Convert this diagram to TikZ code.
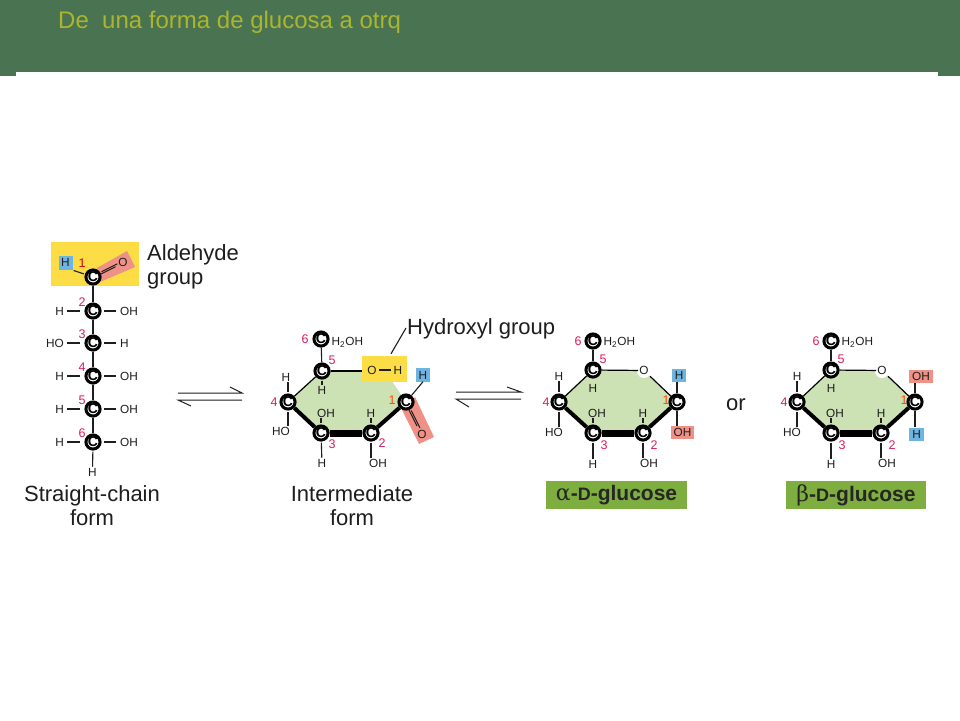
\documentclass[tikz,border=0pt]{standalone}
\usepackage{fontspec}
\setmainfont{Liberation Sans}
\newfontfamily\symf{DejaVu Serif}
\usetikzlibrary{calc}
\definecolor{hdr}{RGB}{74,115,82}
\definecolor{ttl}{RGB}{170,182,46}
\definecolor{yel}{RGB}{252,221,70}
\definecolor{pnk}{RGB}{240,145,135}
\definecolor{blu}{RGB}{110,180,225}
\definecolor{ringg}{RGB}{204,225,180}
\definecolor{gbox}{RGB}{126,174,64}
\definecolor{num}{RGB}{220,30,90}
\definecolor{ink}{RGB}{30,30,30}
\newcommand{\fs}[1]{\fontsize{#1}{#1}\selectfont}
\tikzset{
  carbon/.style={circle,draw=black,line width=3pt,fill=white,inner sep=0pt,minimum size=13pt,font=\fs{14}\bfseries,text=black},
  atom/.style={inner sep=0pt,font=\fs{11.8},text=ink},
  numlab/.style={inner sep=0pt,font=\fs{12.5},text=num},
  captxt/.style={inner sep=0pt,font=\fs{22},text=ink,anchor=base},
  bond/.style={draw=ink,line width=1.1pt,shorten <=1pt,shorten >=1pt},
  sidebond/.style={draw=ink,line width=1.1pt},
  dbl/.style={draw=ink,line width=1pt,shorten >=2pt},
  ringthin/.style={draw=black,line width=1.2pt},
  ringmid/.style={draw=black,line width=4pt},
  ringfat/.style={draw=black,line width=7pt},
  hbox/.style={fill=blu,inner sep=0pt,minimum width=14pt,minimum height=14pt},
  namebox/.style={fill=gbox,inner sep=0pt,minimum width=141pt,minimum height=28pt,font=\fs{21}\bfseries,text=black!85},
  equil/.style={draw=ink,line width=1pt}
}
\begin{document}
\begin{tikzpicture}[x=1pt,y=-1pt]
\useasboundingbox (0,0) rectangle (960,720);
\fill[white] (0,0) rectangle (960,720);
% header
\fill[hdr] (0,0) rectangle (960,72);
\fill[hdr] (0,72) rectangle (16,76);
\fill[hdr] (938,72) rectangle (960,76);
\node[anchor=base west,inner sep=0pt,font=\fs{24},text=ttl] (title) at (58,28) {De\ \ una forma de glucosa a otrq};

% ---------- straight chain
\fill[yel] (51,242) rectangle (139,286);
\fill[pnk] (97,268) -- (127,251) -- (135,267) -- (100,282) -- cycle;
\node[hbox] (sh) at (65.5,263) {};
\node[atom] (shl) at (65.5,262.5) {H};
\node[atom] (so) at (123,262) {O};
\node[carbon] (s1) at (93,277) {C};
\node[carbon] (s2) at (93,311) {C};
\node[carbon] (s3) at (93,343) {C};
\node[carbon] (s4) at (93,376) {C};
\node[carbon] (s5) at (93,409) {C};
\node[carbon] (s6) at (93,442) {C};
\node[atom] (sb) at (92.5,472) {H};
\draw[sidebond] (s1) -- (s2);
\draw[sidebond] (s2) -- (s3);
\draw[sidebond] (s3) -- (s4);
\draw[sidebond] (s4) -- (s5);
\draw[sidebond] (s5) -- (s6);
\draw[bond] (s6) -- (sb);
\draw[bond] (sh.south east) -- (s1);
\draw[dbl,transform canvas={xshift=-0.9pt,yshift=-1.5pt}] (s1) -- (so);
\draw[dbl,transform canvas={xshift=0.9pt,yshift=1.5pt}] (s1) -- (so);
\foreach \i/\yy/\lt/\rt in {2/311/H/OH,3/343/HO/H,4/376/H/OH,5/409/H/OH,6/442/H/OH}{
  \node[atom,anchor=east] (sl\i) at (64,\yy) {\lt};
  \node[atom,anchor=west] (sr\i) at (120,\yy) {\rt};
  \coordinate (sla\i) at (67,\yy);
  \coordinate (slb\i) at (80,\yy);
  \coordinate (sra\i) at (104,\yy);
  \coordinate (srb\i) at (116,\yy);
  \draw[sidebond] (sla\i) -- (slb\i);
  \draw[sidebond] (sra\i) -- (srb\i);
}
\node[numlab,text=red!85!black] (sn1) at (82,263) {1};
\node[numlab] (sn2) at (82,302) {2};
\node[numlab] (sn3) at (82,334) {3};
\node[numlab] (sn4) at (82,367) {4};
\node[numlab] (sn5) at (82,400) {5};
\node[numlab] (sn6) at (82,433) {6};
\node[captxt,anchor=base west] (ald1) at (147,260) {Aldehyde};
\node[captxt,anchor=base west] (ald2) at (147,284.5) {group};
\node[captxt] (sc1) at (92,501.5) {Straight-chain};
\node[captxt] (sc2) at (92,525) {form};

% equilibrium arrows
\coordinate (e1a) at (178,393); \coordinate (e1b) at (242,393); \coordinate (e1c) at (230,387);
\coordinate (e1d) at (242,400); \coordinate (e1e) at (178,400); \coordinate (e1f) at (191,406);
\draw[equil] (e1a) -- (e1b) -- (e1c);
\draw[equil] (e1d) -- (e1e) -- (e1f);
\coordinate (e2a) at (456,392); \coordinate (e2b) at (521,392); \coordinate (e2c) at (507,387);
\coordinate (e2d) at (521,399); \coordinate (e2e) at (456,399); \coordinate (e2f) at (469,407);
\draw[equil] (e2a) -- (e2b) -- (e2c);
\draw[equil] (e2d) -- (e2e) -- (e2f);

% ---------- intermediate
\fill[ringg] (322,371) -- (385,371) -- (406,402) -- (371,433) -- (321,433) -- (288,402) -- cycle;
\fill[pnk] (402,410) -- (415,397) -- (434,437) -- (419,444) -- cycle;
\node[fill=yel,inner sep=0pt,minimum width=45pt,minimum height=26pt] (ibox) at (384.5,369) {};
\node[atom] (io) at (372,370) {O};
\node[atom] (ih) at (398,370) {H};
\node[hbox] (ihb) at (423,374.5) {};
\node[atom] (ihl) at (423,375) {H};
\node[atom] (ioo) at (422,434) {O};
\node[carbon] (i6) at (321,339) {C};
\node[carbon] (i5) at (322,371) {C};
\node[carbon] (i4) at (288,402) {C};
\node[carbon] (i3) at (321,433) {C};
\node[carbon] (i2) at (371,433) {C};
\node[carbon] (i1) at (406,402) {C};
\draw[sidebond] (i6) -- (i5);
\draw[ringthin] (i5) -- (i4);
\draw[ringmid] (i4) -- (i3);
\draw[ringfat] (i3) -- (i2);
\draw[ringmid] (i2) -- (i1);
\draw[ringthin] (i5) -- (i5-|ibox.west);
\draw[line width=1.2pt,draw=ink,shorten <=2.5pt,shorten >=2.5pt] (io) -- (ih);
\draw[sidebond] (i1) -- (ihb.south);
\draw[dbl,shorten >=3pt,transform canvas={xshift=-1.4pt,yshift=0.9pt}] (i1) -- (ioo);
\draw[dbl,shorten >=3pt,transform canvas={xshift=1.4pt,yshift=-0.9pt}] (i1) -- (ioo);
\node[atom] (i_h4) at (286,377) {H};
\node[atom] (i_ho) at (281,431) {HO};
\node[atom] (i_h5) at (322,390) {H};
\node[atom] (i_oh3) at (326,413) {OH};
\node[atom] (i_h2) at (371,413) {H};
\node[atom] (i_h3) at (322,463) {H};
\node[atom] (i_oh2) at (378,463) {OH};
\node[atom,anchor=west] (i_ch) at (331.5,342) {H\textsubscript{2}OH};
\draw[bond] (i_h4.south-|i4) -- (i4);
\draw[bond] (i_ho.north-|i4) -- (i4);
\draw[bond] (i5) -- (i_h5);
\draw[bond] (i_oh3.south-|i3) -- (i3);
\draw[bond] (i_h2) -- (i2);
\draw[bond] (i3) -- (i_h3);
\draw[bond] (i2) -- (i_oh2.north-|i2);
\node[numlab] (i_n6) at (305,339) {6};
\node[numlab] (i_n5) at (332,360) {5};
\node[numlab] (i_n4) at (274,402) {4};
\node[numlab] (i_n3) at (332,444) {3};
\node[numlab] (i_n2) at (382,443) {2};
\node[numlab,text=orange!60!red] (i_n1) at (392,400) {1};
\node[captxt,anchor=base west] (hyd) at (407,334) {Hydroxyl group};
\coordinate (hydl) at (406,328);
\draw[sidebond] (hydl) -- ($(ibox.north)+(6.5,-2)$);
\node[captxt] (ic1) at (352,501.5) {Intermediate};
\node[captxt] (ic2) at (352,525) {form};

% ---------- alpha and beta
\foreach \p/\dx/\ux/\uy/\uw/\dw/\ulab/\dlab/\uc/\dc/\dy in {a/0/679/375.5/14/23/H/OH/blu/pnk/432.5, b/238/683/376/24/15/OH/H/pnk/blu/434}{
\begin{scope}[xshift=\dx pt]
  \fill[ringg] (593,370) -- (644,370) -- (677,402) -- (643,433) -- (593,433) -- (559,402) -- cycle;
  \node[fill=\uc,inner sep=0pt,minimum width=\uw pt,minimum height=13pt] (\p ub) at (\ux,\uy) {};
  \node[fill=\dc,inner sep=0pt,minimum width=\dw pt,minimum height=13pt] (\p db) at ({677+(\dw-14)/2+1},\dy) {};
  \node[atom] (\p ul) at (\p ub) {\ulab};
  \node[atom] (\p dl) at (\p db) {\dlab};
  \node[carbon] (\p 6) at (593,341) {C};
  \node[carbon] (\p 5) at (593,370) {C};
  \node[carbon] (\p 4) at (559,402) {C};
  \node[carbon] (\p 3) at (593,433) {C};
  \node[carbon] (\p 2) at (643,433) {C};
  \node[carbon] (\p 1) at (677,402) {C};
  \fill[white] (644,371) circle (7);
  \node[atom] (\p o) at (644,370.5) {O};
  \draw[sidebond] (\p 6) -- (\p 5);
  \draw[ringthin] (\p 5) -- (\p 4);
  \draw[ringmid] (\p 4) -- (\p 3);
  \draw[ringfat] (\p 3) -- (\p 2);
  \draw[ringmid] (\p 2) -- (\p 1);
  \draw[ringthin,shorten >=1pt] (\p 5) -- (\p o);
  \draw[ringthin,shorten <=2pt] (\p o) -- (\p 1);
  \draw[sidebond] (\p 1) -- (\p ub.south-|\p 1);
  \draw[sidebond] (\p 1) -- (\p db.north-|\p 1);
  \node[atom] (\p h4) at (559,376) {H};
  \node[atom] (\p ho) at (554,432) {HO};
  \node[atom] (\p h5) at (593,388) {H};
  \node[atom] (\p oh3) at (597,413) {OH};
  \node[atom] (\p h2) at (643,413) {H};
  \node[atom] (\p h3) at (593,464) {H};
  \node[atom] (\p oh2) at (649,463) {OH};
  \node[atom,anchor=west] (\p ch) at (603.5,342) {H\textsubscript{2}OH};
  \draw[bond] (\p h4) -- (\p 4);
  \draw[bond] (\p ho.north-|\p 4) -- (\p 4);
  \draw[bond] (\p oh3.south-|\p 3) -- (\p 3);
  \draw[bond] (\p h2) -- (\p 2);
  \draw[bond] (\p 3) -- (\p h3);
  \draw[bond] (\p 2) -- (\p oh2.north-|\p 2);
  \node[numlab] (\p n6) at (578,341) {6};
  \node[numlab] (\p n5) at (603,359) {5};
  \node[numlab] (\p n4) at (546,402) {4};
  \node[numlab] (\p n3) at (604,445) {3};
  \node[numlab] (\p n2) at (654,445) {2};
  \node[numlab,text=orange!60!red] (\p n1) at (666,400) {1};
\end{scope}
}
\node[namebox] (an) at (616.5,495) {{\symf\mdseries\fs{22}α}-{\fs{18}D}-glucose};
\node[namebox,minimum width=140pt] (bn) at (856,495) {{\symf\mdseries\fs{22}β}-{\fs{18}D}-glucose};
\node[captxt] (or) at (736,410) {or};
\end{tikzpicture}
\end{document}
